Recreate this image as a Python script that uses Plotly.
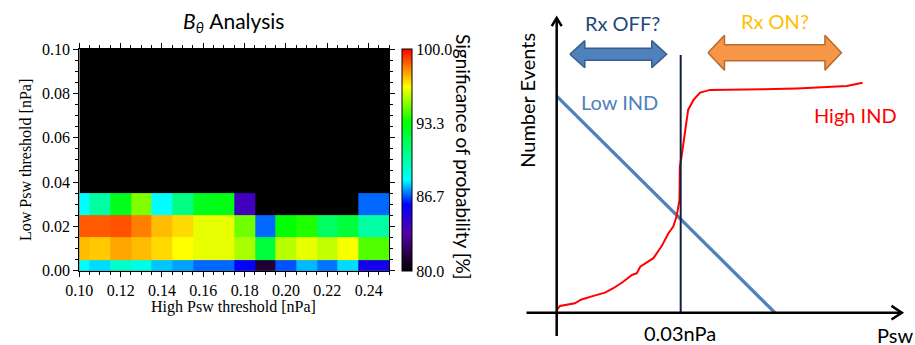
import plotly.graph_objects as go

# ---------------- Heatmap data ----------------
high_psw = [0.10, 0.11, 0.12, 0.13, 0.14, 0.15, 0.16, 0.17, 0.18, 0.19, 0.20, 0.21, 0.22, 0.23, 0.24]
low_psw = [0.00, 0.01, 0.02, 0.03]
N = None
sig_low000 = [88.2, 87.9, 89.3, 88.8, 87.7, 87.4, 86.9, 86.9, 85.9, 81.2, 86.7, 87.6, 87.0, 87.9, 85.4]
sig_low001 = [97.5, 97.3, 97.8, 97.5, 97.1, 96.6, 96.3, 96.3, 95.5, 92.2, 95.7, 96.3, 95.8, 96.5, 94.4]
sig_low002 = [98.8, 98.8, 98.9, 98.3, 97.5, 97.1, 96.3, 96.3, 94.8, 86.9, 93.4, 93.8, 91.4, 92.2, 90.1]
sig_low003 = [88.2, 90.1, 92.8, 95.0, 88.2, 90.7, 92.8, 93.0, 84.0, N, N, N, N, N, 86.9]

cbar_ticks = [80.0, 86.7, 93.3, 100.0]
x_ticks = [0.10, 0.12, 0.14, 0.16, 0.18, 0.20, 0.22, 0.24]
y_ticks = [0.00, 0.02, 0.04, 0.06, 0.08, 0.10]

# ---------------- Schematic data ----------------
low_ind_x = [0.0, 0.0528]
low_ind_y = [73.5, 0.0]
high_ind_x = [0.0, 0.0008, 0.0044, 0.0060, 0.0089, 0.0117, 0.0137, 0.0161, 0.0182, 0.0194,
              0.0202, 0.0234, 0.0254, 0.0270, 0.0282, 0.0290, 0.0297, 0.0298, 0.0302, 0.0310,
              0.0318, 0.0331, 0.0347, 0.0371, 0.0419, 0.0500, 0.0581, 0.0661, 0.0702, 0.0740]
high_ind_y = [0.9, 2.3, 3.2, 4.5, 5.7, 6.8, 8.3, 10.5, 12.8, 13.4,
              15.6, 18.5, 22.6, 26.9, 29.2, 32.6, 38.2, 49.5, 52.9, 60.9,
              68.8, 72.2, 74.7, 75.6, 75.6, 75.8, 76.1, 76.5, 76.9, 78.0]
threshold_psw = 0.03
threshold_top = 87.4
x_axis_span = [-0.0073, 0.0835]
y_axis_span = [-7.9, 100.0]
rx_off_span = [0.0032, 0.0266]
rx_on_span = [0.0366, 0.0689]

SERIF = "Liberation Serif"
SANS = "Lato"

colorscale = [
    [0.00, "rgb(0,0,0)"],
    [0.08, "rgb(40,0,70)"],
    [0.17, "rgb(85,0,170)"],
    [0.30, "rgb(0,0,255)"],
    [0.41, "rgb(0,255,255)"],
    [0.67, "rgb(0,255,0)"],
    [0.83, "rgb(255,255,0)"],
    [1.00, "rgb(255,0,0)"],
]

XR = [0.10, 0.25]
YR = [0.00, 0.10]


def edges(centers, lo, hi):
    mids = [(a + b) / 2 for a, b in zip(centers[:-1], centers[1:])]
    return [lo] + mids + [hi]


x_edges = edges(high_psw, XR[0], XR[1])
y_edges = edges(low_psw, low_psw[0], low_psw[-1] + (low_psw[1] - low_psw[0]) / 2)

fig = go.Figure()

fig.add_trace(go.Heatmap(
    z=[sig_low000, sig_low001, sig_low002, sig_low003],
    x=x_edges, y=y_edges,
    zmin=80, zmax=100, colorscale=colorscale, hoverongaps=False,
    colorbar=dict(
        x=402 / 915, xanchor="left", xpad=0, ypad=0,
        y=(345 - 271) / 345, yanchor="bottom", len=222 / 345, lenmode="fraction",
        thickness=10, thicknessmode="pixels",
        outlinewidth=1, outlinecolor="black", borderwidth=0,
        tickvals=cbar_ticks, ticktext=[f"{v:.1f}" for v in cbar_ticks],
        ticks="", ticklabelposition="outside",
        tickfont=dict(family=SERIF, size=16, color="black"),
    ),
    xaxis="x", yaxis="y",
))

# ---- schematic traces ----
fig.add_trace(go.Scatter(x=low_ind_x, y=low_ind_y, mode="lines",
                         line=dict(color="#4F81BD", width=3.3), xaxis="x2", yaxis="y2",
                         showlegend=False, hoverinfo="skip"))
fig.add_trace(go.Scatter(x=high_ind_x, y=high_ind_y, mode="lines",
                         line=dict(color="#FF0000", width=2), xaxis="x2", yaxis="y2",
                         showlegend=False, hoverinfo="skip"))
fig.add_trace(go.Scatter(x=[threshold_psw, threshold_psw], y=[0, threshold_top], mode="lines",
                         line=dict(color="#14213D", width=2), xaxis="x2", yaxis="y2",
                         showlegend=False, hoverinfo="skip"))
# axes with open arrowheads
xa0, xa1 = x_axis_span
ya0, ya1 = y_axis_span
fig.add_trace(go.Scatter(
    x=[xa0, xa1, None, xa1 - 0.0025, xa1, xa1 - 0.0025],
    y=[0, 0, None, 2.3, 0, -2.3], mode="lines",
    line=dict(color="black", width=2.5), xaxis="x2", yaxis="y2",
    showlegend=False, hoverinfo="skip"))
fig.add_trace(go.Scatter(
    x=[0, 0, None, -0.0012, 0, 0.0012],
    y=[ya0, ya1, None, ya1 - 2.8, ya1, ya1 - 2.8], mode="lines",
    line=dict(color="black", width=2.5), xaxis="x2", yaxis="y2",
    showlegend=False, hoverinfo="skip"))


def double_arrow(span, yc, hl, hh, sh):
    x0, x1 = span
    xs = [x0, x0 + hl, x0 + hl, x1 - hl, x1 - hl, x1, x1 - hl, x1 - hl, x0 + hl, x0 + hl, x0]
    ys = [yc, yc + hh, yc + sh, yc + sh, yc + hh, yc, yc - hh, yc - sh, yc - sh, yc - hh, yc]
    return xs, ys


ax, ay = double_arrow(rx_off_span, 87.7, 0.0036, 4.6, 2.05)
fig.add_trace(go.Scatter(x=ax, y=ay, mode="lines", fill="toself", fillcolor="#4F81BD",
                         line=dict(color="#385D8A", width=1.5), xaxis="x2", yaxis="y2",
                         showlegend=False, hoverinfo="skip"))
ax, ay = double_arrow(rx_on_span, 88.2, 0.0040, 5.9, 2.7)
fig.add_trace(go.Scatter(x=ax, y=ay, mode="lines", fill="toself", fillcolor="#F79646",
                         line=dict(color="#B66D31", width=1.5), xaxis="x2", yaxis="y2",
                         showlegend=False, hoverinfo="skip"))

# black background of heatmap (no-data region)
fig.add_shape(type="rect", xref="x", yref="y", x0=XR[0], x1=XR[1], y0=YR[0], y1=YR[1],
              fillcolor="black", line=dict(width=0), layer="below")

annots = [
    dict(text="<i>B</i><sub><i>θ</i></sub> Analysis", xref="paper", yref="paper",
         x=234 / 915, y=1 - 22 / 345, font=dict(family=SANS, size=21, color="black")),
    dict(text="High Psw threshold [nPa]", xref="paper", yref="paper",
         x=234 / 915, y=1 - 307 / 345, font=dict(family=SERIF, size=16, color="black")),
    dict(text="Low Psw threshold [nPa]", xref="paper", yref="paper", textangle=-90,
         x=25 / 915, y=1 - 160 / 345, font=dict(family=SERIF, size=16, color="black")),
    dict(text="Significance of probability [%]", xref="paper", yref="paper", textangle=90,
         x=464 / 915, y=1 - 157 / 345, font=dict(family=SANS, size=19, color="black")),
    dict(text="Rx OFF?", xref="x2", yref="y2", x=0.0160, y=98.3,
         font=dict(family=SANS, size=20, color="#1F497D")),
    dict(text="Rx ON?", xref="x2", yref="y2", x=0.0528, y=99.0,
         font=dict(family=SANS, size=20, color="#FFC000")),
    dict(text="Low IND", xref="x2", yref="y2", x=0.0153, y=71.5,
         font=dict(family=SANS, size=20, color="#4F81BD")),
    dict(text="High IND", xref="x2", yref="y2", x=0.0722, y=67.1,
         font=dict(family=SANS, size=20, color="#FF0000")),
    dict(text="Number Events", xref="x2", yref="y2", x=-0.0072, y=72.2, textangle=-90,
         font=dict(family=SANS, size=20, color="black")),
    dict(text="0.03nPa", xref="x2", yref="y2", x=0.0298, y=-6.9,
         font=dict(family=SANS, size=20, color="black")),
    dict(text="Psw", xref="x2", yref="y2", x=0.0819, y=-7.4,
         font=dict(family=SANS, size=20, color="black")),
]
for a in annots:
    a.update(showarrow=False, xanchor="center", yanchor="middle")

tickfont = dict(family=SERIF, size=16, color="black")
fig.update_layout(
    width=915, height=345, margin=dict(l=0, r=0, t=0, b=0, autoexpand=False),
    paper_bgcolor="white", plot_bgcolor="white", showlegend=False,
    annotations=annots,
    xaxis=dict(domain=[79.3 / 915, 389.3 / 915], range=XR, anchor="y", automargin=False,
               tickvals=x_ticks, tickformat=".2f", ticks="outside", ticklen=5,
               tickcolor="black", tickwidth=1,
               minor=dict(dtick=0.005, tick0=0.10, ticks="outside", ticklen=3, tickcolor="black"),
               showline=True, linecolor="black", linewidth=1, mirror="allticks",
               showgrid=False, zeroline=False, tickfont=tickfont),
    yaxis=dict(domain=[(345 - 270.7) / 345, (345 - 49) / 345], range=YR, anchor="x", automargin=False,
               tickvals=y_ticks, tickformat=".2f", ticks="outside", ticklen=5,
               tickcolor="black", tickwidth=1,
               minor=dict(dtick=0.005, tick0=0.0, ticks="outside", ticklen=3, tickcolor="black"),
               showline=True, linecolor="black", linewidth=1, mirror="allticks",
               showgrid=False, zeroline=False, tickfont=tickfont),
    xaxis2=dict(domain=[0.55, 1.0], range=[-0.01293, 0.08669], anchor="y2", visible=False,
                automargin=False),
    yaxis2=dict(domain=[0.0, 1.0], range=[-10.96, 106.1], anchor="x2", visible=False,
                automargin=False),
)

fig.write_html("out.html")
